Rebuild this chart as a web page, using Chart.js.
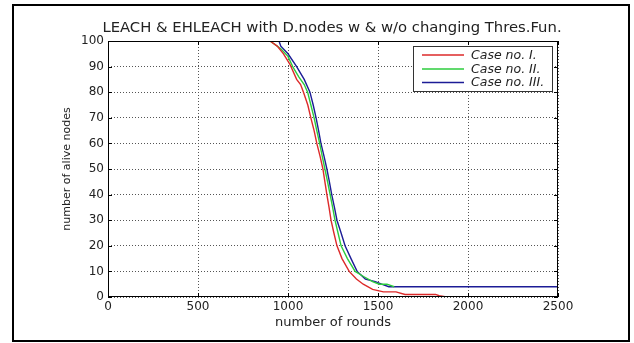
<!DOCTYPE html>
<html>
<head>
<meta charset="utf-8">
<script src="https://cdn.jsdelivr.net/npm/chart.js@4.4.1/dist/chart.umd.min.js"></script>
<style>
  html, body { margin: 0; padding: 0; background: #fff; }
  #wrap { width: 634px; height: 343px; position: relative; }
</style>
</head>
<body>
<div id="wrap"><canvas id="chart"></canvas></div>
<script>
// values
const labels = ['Case no. I.', 'Case no. II.', 'Case no. III.'];

const rounds1 = [900, 940, 975, 1010, 1048, 1070, 1086, 1110, 1127, 1145, 1160, 1178, 1194, 1205, 1216, 1228, 1239, 1255, 1272, 1300, 1340, 1380, 1418, 1470, 1530, 1600, 1650, 1820, 1840, 1880];
const alive1 = [100, 98, 95, 91, 85, 83, 80, 75, 70, 65, 60, 55, 50, 45, 40, 35, 30, 25, 20, 15, 10, 7, 5, 3, 2, 2, 1, 1, 0.5, 0];

const rounds2 = [900, 960, 1000, 1026, 1060, 1090, 1109, 1127, 1145, 1160, 1176, 1190, 1205, 1220, 1234, 1248, 1261, 1278, 1295, 1330, 1373, 1420, 1470, 1507, 1550, 1590];
const alive2 = [100, 97, 94, 90, 86, 83, 80, 75, 70, 65, 60, 55, 50, 45, 40, 35, 30, 25, 20, 15, 10, 8, 6, 5, 5, 4];

const rounds3 = [900, 950, 960, 1000, 1048, 1090, 1122, 1140, 1156, 1170, 1183, 1200, 1216, 1230, 1243, 1258, 1272, 1295, 1317, 1350, 1384, 1430, 1485, 1520, 1560, 1600, 2500];
const alive3 = [100, 100, 98, 95, 90, 85, 80, 75, 70, 65, 60, 55, 50, 45, 40, 35, 30, 25, 20, 15, 10, 7, 6, 5, 4, 4, 4];

const xTicks = [0, 500, 1000, 1500, 2000, 2500];
const yTicks = [0, 10, 20, 30, 40, 50, 60, 70, 80, 90, 100];

const colors = ['#dd2a2a', '#2ccc3c', '#1c1c96'];
const font = 'DejaVu Sans';

function toPoints(xs, ys) {
    return xs.map((x, i) => ({ x: x, y: ys[i] }));
}

// frame, inside ticks, title, legend box and outer border
const extras = {
    id: 'extras',
    afterDraw(chart) {
        const ctx = chart.ctx;
        const a = chart.chartArea;
        const xs = chart.scales.x;
        const ys = chart.scales.y;
        ctx.save();
        ctx.strokeStyle = '#000';
        ctx.lineWidth = 1;
        ctx.strokeRect(a.left + 0.5, a.top + 0.5, a.right - a.left - 1, a.bottom - a.top - 1);

        ctx.beginPath();
        xTicks.forEach(v => {
            const px = Math.round(xs.getPixelForValue(v)) + 0.5;
            ctx.moveTo(px, a.bottom); ctx.lineTo(px, a.bottom - 4);
            ctx.moveTo(px, a.top); ctx.lineTo(px, a.top + 4);
        });
        yTicks.forEach(v => {
            const py = Math.round(ys.getPixelForValue(v)) + 0.5;
            ctx.moveTo(a.left, py); ctx.lineTo(a.left + 4, py);
            ctx.moveTo(a.right, py); ctx.lineTo(a.right - 4, py);
        });
        ctx.stroke();

        // title
        ctx.fillStyle = '#222';
        ctx.font = '14.8px "' + font + '"';
        ctx.textAlign = 'center';
        ctx.textBaseline = 'middle';
        ctx.fillText('LEACH & EHLEACH with D.nodes w & w/o changing Thres.Fun.', (a.left + a.right) / 2 - 1, 28);

        // legend
        const bx = 413, by = 46, bw = 139, bh = 45;
        ctx.fillStyle = '#fff';
        ctx.fillRect(bx, by, bw, bh);
        ctx.strokeStyle = '#333';
        ctx.strokeRect(bx + 0.5, by + 0.5, bw, bh);
        const rows = [55, 69, 82.5];
        ctx.font = 'italic 12.5px "' + font + '"';
        ctx.textAlign = 'left';
        labels.forEach((lab, i) => {
            ctx.strokeStyle = colors[i];
            ctx.lineWidth = 1.3;
            ctx.beginPath();
            ctx.moveTo(422, rows[i]);
            ctx.lineTo(464, rows[i]);
            ctx.stroke();
            ctx.fillStyle = '#222';
            ctx.fillText(lab, 471, rows[i] + 0.5);
        });

        // outer picture border
        ctx.strokeStyle = '#000';
        ctx.lineWidth = 2;
        ctx.strokeRect(13, 5, 616, 336);
        ctx.restore();
    }
};

const ctx = document.getElementById('chart').getContext('2d');
new Chart(ctx, {
    type: 'line',
    data: {
        datasets: [
            { label: labels[0], data: toPoints(rounds1, alive1), borderColor: colors[0] },
            { label: labels[1], data: toPoints(rounds2, alive2), borderColor: colors[1] },
            { label: labels[2], data: toPoints(rounds3, alive3), borderColor: colors[2] }
        ]
    },
    options: {
        responsive: true,
        maintainAspectRatio: false,
        animation: false,
        layout: { padding: { left: 14, top: 41, right: 76, bottom: 0 } },
        elements: {
            point: { radius: 0 },
            line: { borderWidth: 1.4, tension: 0, fill: false }
        },
        plugins: {
            legend: { display: false },
            tooltip: { enabled: false }
        },
        scales: {
            x: {
                type: 'linear',
                min: 0,
                max: 2500,
                afterBuildTicks: scale => { scale.ticks = xTicks.map(v => ({ value: v })); },
                afterFit: scale => { scale.height = 46; },
                grid: { color: '#555', drawTicks: false },
                border: { display: false, dash: [1, 2] },
                ticks: { color: '#222', padding: 3, font: { family: font, size: 12 }, callback: v => String(v) },
                title: {
                    display: true,
                    text: 'number of rounds',
                    color: '#222',
                    font: { family: font, size: 13 },
                    padding: { top: 0, bottom: 13 }
                }
            },
            y: {
                min: 0,
                max: 100,
                afterBuildTicks: scale => { scale.ticks = yTicks.map(v => ({ value: v })); },
                afterFit: scale => { scale.width = 94; },
                grid: { color: '#555', drawTicks: false },
                border: { display: false, dash: [1, 2] },
                ticks: { color: '#222', padding: 4, font: { family: font, size: 12 }, callback: v => String(v) },
                title: {
                    display: true,
                    text: 'number of alive nodes',
                    color: '#222',
                    font: { family: font, size: 11 },
                    padding: { top: 47, bottom: 0 }
                }
            }
        }
    },
    plugins: [extras]
});
</script>
</body>
</html>
